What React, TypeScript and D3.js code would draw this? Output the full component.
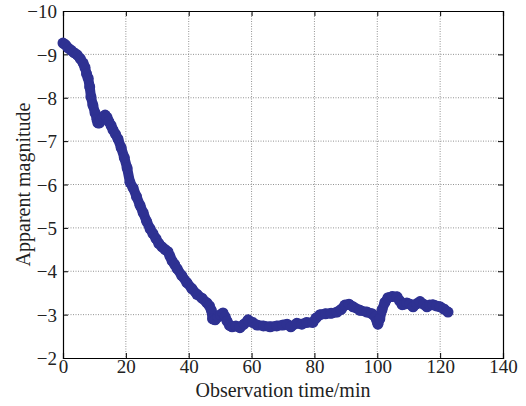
import React, { useEffect, useRef } from 'react';
import * as d3 from 'd3';

// observation time (min) and apparent magnitude
const times = [0, 0.8, 1.6, 2.5, 3.5, 4.5, 5.5, 6.4, 7.0, 7.5, 8.0, 8.5, 8.9, 9.5, 10.2, 10.8, 11.1, 11.6, 12.1, 12.8, 13.4, 14.0, 14.6, 15.3, 15.9, 16.7, 17.5, 18.5, 19.5, 20.4, 21.3, 22.3, 23.4, 24.5, 25.5, 26.6, 27.7, 28.6, 29.6, 30.5, 31.5, 32.5, 33.4, 34.0, 34.7, 35.5, 36.3, 37.8, 39.4, 41.0, 42.6, 44.2, 45.8, 46.6, 47.2, 47.6, 48.4, 49.3, 50.1, 50.9, 51.6, 52.2, 53.0, 53.8, 55.0, 56.3, 57.6, 58.9, 60.3, 61.7, 63.8, 65.9, 68.0, 70.0, 71.3, 72.5, 74.4, 76.0, 77.5, 79.5, 80.5, 81.8, 83.5, 85.3, 87.2, 88.5, 89.7, 91.0, 92.3, 94.5, 96.7, 98.3, 99.3, 99.9, 100.2, 100.8, 101.5, 102.4, 103.4, 104.8, 106.3, 107.1, 107.9, 108.6, 109.4, 110.4, 111.4, 112.5, 113.6, 114.7, 115.8, 116.7, 117.7, 118.8, 120.0, 121.2, 122.5];
const magnitudes = [-9.26, -9.22, -9.15, -9.10, -9.04, -8.99, -8.90, -8.80, -8.70, -8.55, -8.45, -8.25, -8.02, -7.83, -7.65, -7.50, -7.42, -7.42, -7.50, -7.56, -7.60, -7.55, -7.45, -7.36, -7.26, -7.16, -7.05, -6.85, -6.62, -6.38, -6.05, -5.92, -5.72, -5.52, -5.35, -5.15, -4.98, -4.87, -4.75, -4.64, -4.56, -4.50, -4.45, -4.35, -4.24, -4.16, -4.06, -3.90, -3.74, -3.60, -3.47, -3.38, -3.27, -3.20, -3.10, -2.90, -2.88, -2.95, -3.00, -3.04, -2.95, -2.85, -2.75, -2.72, -2.74, -2.70, -2.78, -2.88, -2.82, -2.76, -2.74, -2.72, -2.74, -2.76, -2.78, -2.72, -2.80, -2.78, -2.82, -2.82, -2.92, -3.00, -3.02, -3.03, -3.06, -3.12, -3.22, -3.24, -3.18, -3.10, -3.06, -3.02, -2.95, -2.85, -2.78, -2.90, -3.11, -3.28, -3.39, -3.42, -3.41, -3.32, -3.23, -3.24, -3.27, -3.24, -3.18, -3.25, -3.30, -3.24, -3.18, -3.22, -3.23, -3.20, -3.18, -3.13, -3.06];

const xTicks = [0, 20, 40, 60, 80, 100, 120, 140];
const yTicks = [-2, -3, -4, -5, -6, -7, -8, -9, -10];

const W = 526;
const H = 406;
const FONT = '"Liberation Serif", "DejaVu Serif", serif';

export default function App() {
  const ref = useRef<SVGSVGElement>(null);

  useEffect(() => {
    const svg = d3.select(ref.current);
    svg.selectAll('*').remove();

    const left = 63, right = 503, top = 11, bottom = 358;
    const x = d3.scaleLinear().domain([0, 140]).range([left, right]);
    const y = d3.scaleLinear().domain([-2, -10]).range([bottom, top]);
    const fmt = (v: number) => (v < 0 ? '\u2212' + Math.abs(v) : String(v));

    // dotted grid
    const grid = svg.append('g').attr('stroke', '#777').attr('stroke-width', 0.8).attr('stroke-dasharray', '1,1.5');
    xTicks.slice(1, -1).forEach(t => {
      grid.append('line').attr('x1', x(t)).attr('x2', x(t)).attr('y1', top).attr('y2', bottom);
    });
    yTicks.slice(1, -1).forEach(t => {
      grid.append('line').attr('x1', left).attr('x2', right).attr('y1', y(t)).attr('y2', y(t));
    });

    // axes with inward ticks
    const bx = svg.append('g').attr('transform', `translate(0,${bottom})`)
      .call(d3.axisBottom(x).tickValues(xTicks).tickSize(-5).tickPadding(3).tickFormat(d => fmt(+d)));
    const tx = svg.append('g').attr('transform', `translate(0,${top})`)
      .call(d3.axisTop(x).tickValues(xTicks).tickSize(-5).tickFormat(() => ''));
    const ly = svg.append('g').attr('transform', `translate(${left},0)`)
      .call(d3.axisLeft(y).tickValues(yTicks).tickSize(-5).tickPadding(6).tickFormat(d => fmt(+d)));
    const ry = svg.append('g').attr('transform', `translate(${right},0)`)
      .call(d3.axisRight(y).tickValues(yTicks).tickSize(-5).tickFormat(() => ''));
    [bx, tx, ly, ry].forEach(g => {
      g.select('.domain').attr('stroke', '#000').attr('stroke-width', 1.2);
      g.selectAll('.tick line').attr('stroke', '#000');
      g.selectAll('text').attr('font-family', FONT).attr('font-size', 19).attr('fill', '#222');
    });
    ly.selectAll('text').attr('dy', '0.35em');
    bx.selectAll('text').attr('dy', '0.65em');

    // data: thick line of markers
    const pts = times.map((t, i) => [t, magnitudes[i]] as [number, number]);
    const color = '#2e3192';
    svg.append('path')
      .datum(pts)
      .attr('fill', 'none')
      .attr('stroke', color)
      .attr('stroke-width', 10)
      .attr('stroke-linejoin', 'round')
      .attr('stroke-linecap', 'round')
      .attr('d', d3.line<[number, number]>().x(d => x(d[0])).y(d => y(d[1])));
    svg.append('g').selectAll('circle')
      .data(pts)
      .enter()
      .append('circle')
      .attr('cx', d => x(d[0]))
      .attr('cy', d => y(d[1]))
      .attr('r', 5.5)
      .attr('fill', color);

    // axis titles
    svg.append('text')
      .attr('x', (left + right) / 2)
      .attr('y', 397)
      .attr('text-anchor', 'middle')
      .attr('font-family', FONT)
      .attr('font-size', 20)
      .attr('fill', '#222')
      .text('Observation time/min');
    svg.append('text')
      .attr('transform', `translate(30,${(top + bottom) / 2}) rotate(-90)`)
      .attr('text-anchor', 'middle')
      .attr('font-family', FONT)
      .attr('font-size', 20)
      .attr('fill', '#222')
      .text('Apparent magnitude');
  }, []);

  return (
    <svg ref={ref} width={W} height={H} style={{ position: 'absolute', left: 0, top: 0, background: '#fff' }} />
  );
}
